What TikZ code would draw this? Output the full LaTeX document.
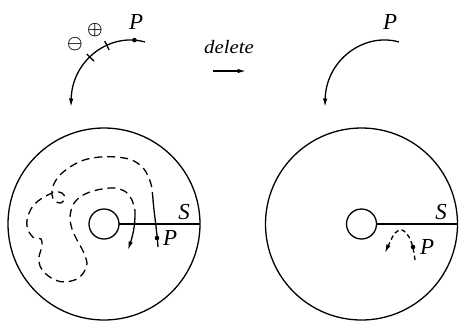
\documentclass[tikz,border=0pt]{standalone}
\usepackage{fontspec}
\setmainfont{Liberation Serif}
\usetikzlibrary{arrows.meta}
\tikzset{
  ln/.style={line width=1.3bp},
  dsh/.style={line width=1.3bp, dash pattern=on 8bp off 5bp},
  arr/.style={-{Latex[length=8.5bp,width=4.5bp]}},
  dotmark/.style={circle, fill=black, inner sep=0pt, minimum size=4.6bp},
  tickmark/.style={draw, line width=1.3bp, rectangle, inner sep=0pt, minimum width=0pt, minimum height=10bp},
  lbl/.style={inner sep=0pt, font=\fontsize{23}{23}\selectfont\itshape},
  sym/.style={inner sep=0pt},
  ring/.style={draw, circle, line width=1.3bp, inner sep=0pt, outer sep=0pt},
}
\begin{document}
\begin{tikzpicture}[x=1bp,y=-1bp]
\useasboundingbox (0,0) rectangle (459,322);
% ---------- top left arc ----------
\draw[ln,arr] (145,42) .. controls (110,32) and (72,60) .. (71,107)
  node[pos=0.1, dotmark] (p1) {}
  node[pos=0.37, sloped, tickmark] (t1) {}
  node[pos=0.56, sloped, tickmark] (t2) {};
\node[lbl] (P1) at (136,22) {P};
\node[sym] (plus) at (95,30) {\scalebox{1.75}{\boldmath$\oplus$}};
\node[sym] (minus) at (75,44) {\scalebox{1.75}{\boldmath$\ominus$}};
% ---------- delete ----------
\node[inner sep=0pt, font=\fontsize{19}{19}\selectfont\itshape] (del) at (229,47) {\scalebox{1.1}[1]{delete}};
\coordinate (da) at (213,71);
\coordinate (db) at (246,71);
\draw[line width=1.3bp, -{Latex[length=8.5bp,width=4.5bp]}] (da) -- (db);
% ---------- top right arc ----------
\draw[ln,arr] (399,42) .. controls (364,32) and (326,60) .. (325,107);
\node[lbl] (P2) at (390,22) {P};
% ---------- left disc ----------
\node[ring, minimum size=192bp] (D1) at (104,224) {};
\node[ring, minimum size=30bp] (H1) at (104,224) {};
\draw[ln] (H1.east) -- (D1.east);
\node[lbl] (S1) at (184,212) {S};
% path of P
\node[dotmark] (q1) at (157,238) {};
\draw[ln] (158,247) .. controls (157,232) and (154,212) .. (153,200);
\draw[dsh] plot[smooth, tension=0.55] coordinates {
 (153,200) (151,184) (144,169) (132,160) (116,157) (100,157) (84,160) (70,167)
 (59,176) (53,186) (52,195) (55,201) (61,203) (65,198) (62,193) (55,192)
 (46,196) (38,201) (31,209) (27,220) (28,230) (34,238) (41,239) (42,246)
 (39,257) (40,266) (46,274) (55,280) (65,282) (77,279) (84,272) (87,263)
 (83,251) (77,240) (72,229) (70,217) (73,205) (80,197) (90,192) (102,189)
 (115,188) (126,192) (132,200) (135,211)};
\draw[ln,arr] (135,211) .. controls (135.5,226) and (132,238) .. (128,250);
\node[lbl] (PL) at (170,238) {P};
% ---------- right disc ----------
\node[ring, minimum size=192bp] (D2) at (361.5,224) {};
\node[ring, minimum size=30bp] (H2) at (361.5,224) {};
\draw[ln] (H2.east) -- (D2.east);
\node[lbl] (S2) at (441,212) {S};
\node[dotmark] (q2) at (413,247) {};
\draw[dsh, dash pattern=on 4.5bp off 3bp, arr] plot[smooth, tension=0.6] coordinates {
 (415,260) (413,248) (409,237) (402,230) (395,233) (390,242) (385,253)};
\node[lbl] (PR) at (427,247) {P};
\end{tikzpicture}
\end{document}
